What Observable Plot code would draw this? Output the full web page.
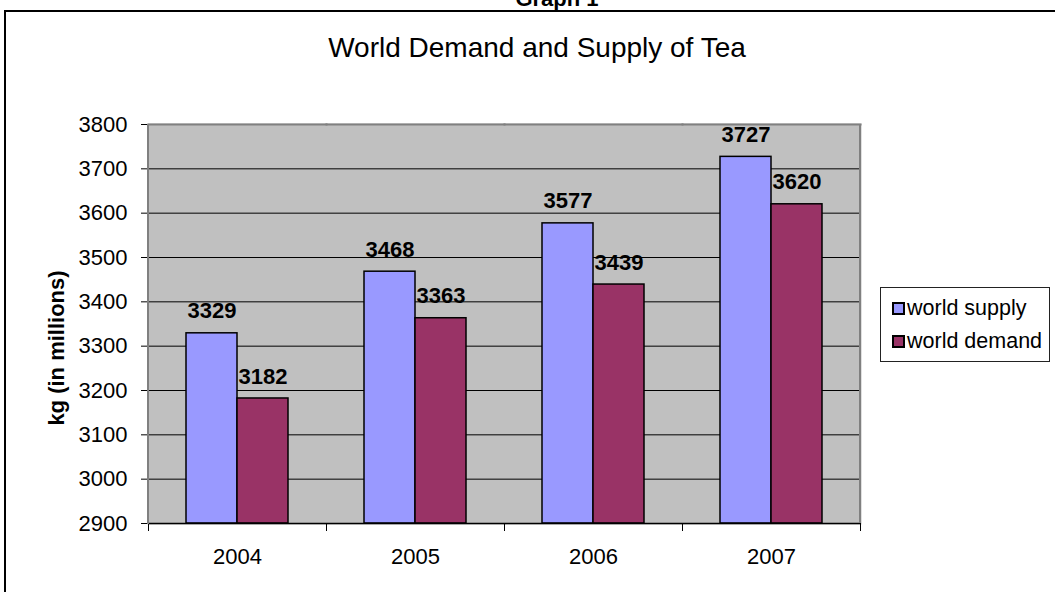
<!DOCTYPE html>
<html><head><meta charset="utf-8">
<script src="https://cdn.jsdelivr.net/npm/d3@7"></script>
<script src="https://cdn.jsdelivr.net/npm/@observablehq/plot@0.6"></script>
<style>
body{margin:0;background:#fff;font-family:"Liberation Sans",Arial,sans-serif;}
#wrap{position:relative;width:1055px;height:592px;overflow:hidden;background:#fff;}
#border{position:absolute;left:4px;top:10px;width:1200px;height:700px;border-left:2px solid #000;border-top:2px solid #000;}
#graphlabel{position:absolute;left:0;width:1114px;top:-12px;text-align:center;font-weight:bold;font-size:22px;line-height:22px;}
#title{position:absolute;left:0;width:1074px;top:33px;text-align:center;font-size:28px;line-height:30px;}
#ytitle{position:absolute;left:57px;top:348px;transform:translate(-50%,-50%) rotate(-90deg);font-weight:bold;font-size:22px;white-space:nowrap;}
#chart{position:absolute;left:0;top:100px;}
#legend{position:absolute;left:880px;top:287px;width:170px;height:75px;border:1px solid #222;box-sizing:border-box;background:#fff;padding-top:4px;}
.item{display:flex;align-items:center;height:33px;padding-left:11px;font-size:21.5px;}
.sw{width:9px;height:9px;border:2px solid #000;margin-right:2px;}
</style></head><body>
<div id="wrap">
 <div id="border"></div>
 <div id="graphlabel">Graph 1</div>
 <div id="title">World Demand and Supply of Tea</div>
 <div id="ytitle">kg (in millions)</div>
 <div id="chart"></div>
 <div id="legend"></div>
</div>
<script>
const years = ["2004", "2005", "2006", "2007"];
const seriesNames = ["world supply", "world demand"];
const supply = [3329, 3468, 3577, 3727];
const demand = [3182, 3363, 3439, 3620];
const colors = ["#9999ff", "#993366"];
const yTicks = [2900, 3000, 3100, 3200, 3300, 3400, 3500, 3600, 3700, 3800];
const gridTicks = [3000, 3100, 3200, 3300, 3400, 3500, 3600, 3700];

const data = years.flatMap((year, i) => [
  {year, series: seriesNames[0], value: supply[i]},
  {year, series: seriesNames[1], value: demand[i]}
]);

const font = '"Liberation Sans", Arial, sans-serif';
const chart = Plot.plot({
  width: 880, height: 492,
  marginLeft: 148, marginRight: 20, marginTop: 24, marginBottom: 69,
  style: {fontFamily: font, fontSize: "22px", color: "black", background: "transparent", overflow: "visible"},
  fx: {domain: years, padding: 0, label: null},
  x: {domain: seriesNames, paddingInner: 0, paddingOuter: 0.745, axis: null},
  y: {domain: [2900, 3800], label: null},
  color: {domain: seriesNames, range: colors},
  marks: [
    Plot.frame({fill: "#c0c0c0", stroke: "#c0c0c0", strokeWidth: 2}),
    Plot.gridY(gridTicks, {stroke: "black", strokeOpacity: 1}),
    Plot.frame({anchor: "top", stroke: "#808080", strokeWidth: 2}),
    Plot.frame({anchor: "left", stroke: "black", insetTop: 399, insetBottom: -7}),
    Plot.frame({anchor: "right", stroke: "black", insetTop: 399, insetBottom: -7}),
    Plot.barY(data, {fx: "year", x: "series", y1: 2900, y2: "value", fill: "series", stroke: "black", strokeWidth: 1.5}),
    Plot.ruleY([2900], {stroke: "black", strokeWidth: 1.5}),
    Plot.text(data, {fx: "year", x: "series", y: "value", text: d => String(d.value), dy: -22, fontWeight: "bold", fontSize: 22}),
    Plot.axisY({ticks: yTicks, tickFormat: d => String(d), tickSize: 7, tickPadding: 14, fontSize: 22, label: null}),
    Plot.axisFx({anchor: "bottom", tickSize: 0, tickPadding: 25, fontSize: 22, label: null})
  ]
});
document.getElementById("chart").appendChild(chart);

// left and right plot-area borders, placed with the library's scales
const fx = chart.scale("fx"), y = chart.scale("y");
const svg = d3.select(chart);
const xL = fx.apply(years[0]);
const xR = fx.apply(years[years.length - 1]) + fx.bandwidth;
svg.append("line").attr("x1", xL).attr("x2", xL).attr("y1", y.apply(3800)).attr("y2", y.apply(2900) + 1)
  .attr("stroke", "#808080").attr("stroke-width", 2);
svg.append("line").attr("x1", xR).attr("x2", xR).attr("y1", y.apply(3800)).attr("y2", y.apply(2900))
  .attr("stroke", "#808080").attr("stroke-width", 2);

// legend
const legend = d3.select("#legend");
seriesNames.forEach((s, i) => {
  const it = legend.append("div").attr("class", "item");
  it.append("div").attr("class", "sw").style("background", colors[i]);
  it.append("span").text(s);
});
</script>
</body></html>
